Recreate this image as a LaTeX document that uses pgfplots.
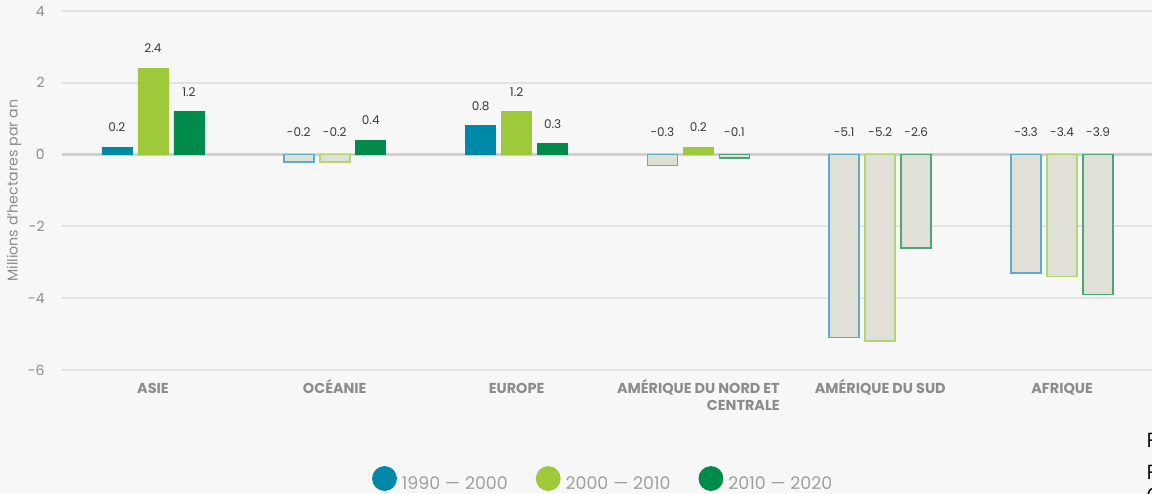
\documentclass[border=0pt]{standalone}
\usepackage{fontspec}
\setmainfont{Poppins}
\newfontfamily\osans{Open Sans}
\usepackage{pgfplots}
\pgfplotsset{compat=1.18}
\definecolor{cA}{HTML}{0088A9}
\definecolor{cB}{HTML}{9DC93A}
\definecolor{cC}{HTML}{008A4B}
\definecolor{oA}{HTML}{5BAEC6}
\definecolor{oB}{HTML}{B3D672}
\definecolor{oC}{HTML}{4BA776}
\definecolor{negfill}{HTML}{E0DFD8}
\definecolor{bg}{HTML}{F7F7F7}
\definecolor{gridc}{HTML}{E2E2E2}
\definecolor{zeroc}{HTML}{D0D0D0}
\definecolor{tickc}{HTML}{8C8C8C}
\definecolor{legc}{HTML}{A0A0A0}
\definecolor{valc}{HTML}{3A3A3A}
\pgfplotsset{
  valstyle/.style={nodes near coords, point meta=explicit symbolic,
    every node near coord/.append style={anchor=south, inner sep=0pt, yshift=#1,
      font=\fontsize{6}{7}\selectfont, text=valc}},
}
\newcommand{\ph}{\vphantom{É}}
\begin{document}
\begin{tikzpicture}
\fill[bg] (-31pt,-61.5pt) rectangle (545pt,185pt);
\useasboundingbox (-31pt,-61.5pt) rectangle (545pt,185pt);
\begin{axis}[
  at={(0,0)}, anchor=south west,
  width=545.5pt, height=179.5pt, scale only axis,
  ybar, bar width=15pt,
  xmin=-0.5, xmax=5.5, ymin=-6, ymax=4,
  ytick={-6,-4,-2,0,2,4},
  xtick={0,1,2,3,4,5},
  xticklabels={\ph ASIE, \ph OCÉANIE, \ph EUROPE, {\ph AMÉRIQUE DU NORD ET\\CENTRALE}, \ph AMÉRIQUE DU SUD, \ph AFRIQUE},
  axis line style={draw=none},
  major tick length=0pt,
  tick style={draw=none},
  ymajorgrids,
  grid style={gridc, line width=1pt},
  extra y ticks={0}, extra y tick labels={},
  extra y tick style={grid style={zeroc, line width=1.5pt}},
  /pgf/number format/assume math mode=true,
  yticklabel style={font=\fontsize{7}{8}\selectfont, text=tickc, inner sep=0pt, xshift=-8.5pt},
  xticklabel style={font=\fontsize{7.2}{8.4}\selectfont\bfseries, text=tickc, inner sep=0pt, yshift=-4.6pt, align=right},
  ylabel={Millions d'hectares par an},
  every axis y label/.style={at={(axis description cs:-0.044,0.5)}, rotate=90, anchor=center, font=\fontsize{7.1}{8}\selectfont, text=tickc},
  clip=false,
  legend columns=3,
  legend style={at={(axis description cs:0.497,-0.31)}, anchor=center, draw=none, fill=none,
    font=\fontsize{8.7}{10}\selectfont, text=legc, column sep=0.5pt,
    /tikz/every even column/.append style={column sep=12pt}},
]
% 1990-2000
\addplot[forget plot, bar shift=-18pt, fill=cA, draw=cA, line width=0.4pt, valstyle=7.5pt]
  coordinates {(0,0.2)[0.2] (2,0.8)[0.8]};
\addplot[forget plot, bar shift=-18pt, fill=negfill, draw=oA, line width=0.8pt]
  coordinates {(1,-0.2) (3,-0.3) (4,-5.1) (5,-3.3)};
\addplot[forget plot, bar shift=-18pt, draw=none, fill=none, valstyle=9pt]
  coordinates {(1,0)[-0.2] (3,0)[-0.3] (4,0)[-5.1] (5,0)[-3.3]};
% 2000-2010
\addplot[forget plot, bar shift=0pt, fill=cB, draw=cB, line width=0.4pt, valstyle=7.5pt]
  coordinates {(0,2.4)[2.4] (2,1.2)[1.2] (3,0.2)[0.2]};
\addplot[forget plot, bar shift=0pt, fill=negfill, draw=oB, line width=0.8pt]
  coordinates {(1,-0.2) (4,-5.2) (5,-3.4)};
\addplot[forget plot, bar shift=0pt, draw=none, fill=none, valstyle=9pt]
  coordinates {(1,0)[-0.2] (4,0)[-5.2] (5,0)[-3.4]};
% 2010-2020
\addplot[forget plot, bar shift=18pt, fill=cC, draw=cC, line width=0.4pt, valstyle=7.5pt]
  coordinates {(0,1.2)[1.2] (1,0.4)[0.4] (2,0.3)[0.3]};
\addplot[forget plot, bar shift=18pt, fill=negfill, draw=oC, line width=0.8pt]
  coordinates {(3,-0.1) (4,-2.6) (5,-3.9)};
\addplot[forget plot, bar shift=18pt, draw=none, fill=none, valstyle=9pt]
  coordinates {(3,0)[-0.1] (4,0)[-2.6] (5,0)[-3.9]};
\addlegendimage{legend image code/.code={\fill[cA] (6pt,3pt) circle (6pt);}}
\addlegendentry{1990 — 2000}
\addlegendimage{legend image code/.code={\fill[cB] (6pt,3pt) circle (6pt);}}
\addlegendentry{2000 — 2010}
\addlegendimage{legend image code/.code={\fill[cC] (6pt,3pt) circle (6pt);}}
\addlegendentry{2010 — 2020}
\end{axis}
\node[anchor=base west, inner sep=0pt, font=\osans\fontsize{10}{12}\selectfont] at (542pt,-38.5pt) {F};
\node[anchor=base west, inner sep=0pt, font=\osans\fontsize{10}{12}\selectfont] at (542pt,-54.5pt) {F};
\node[anchor=base west, inner sep=0pt, font=\osans\fontsize{10}{12}\selectfont] at (542pt,-66pt) {C};
\end{tikzpicture}
\end{document}
